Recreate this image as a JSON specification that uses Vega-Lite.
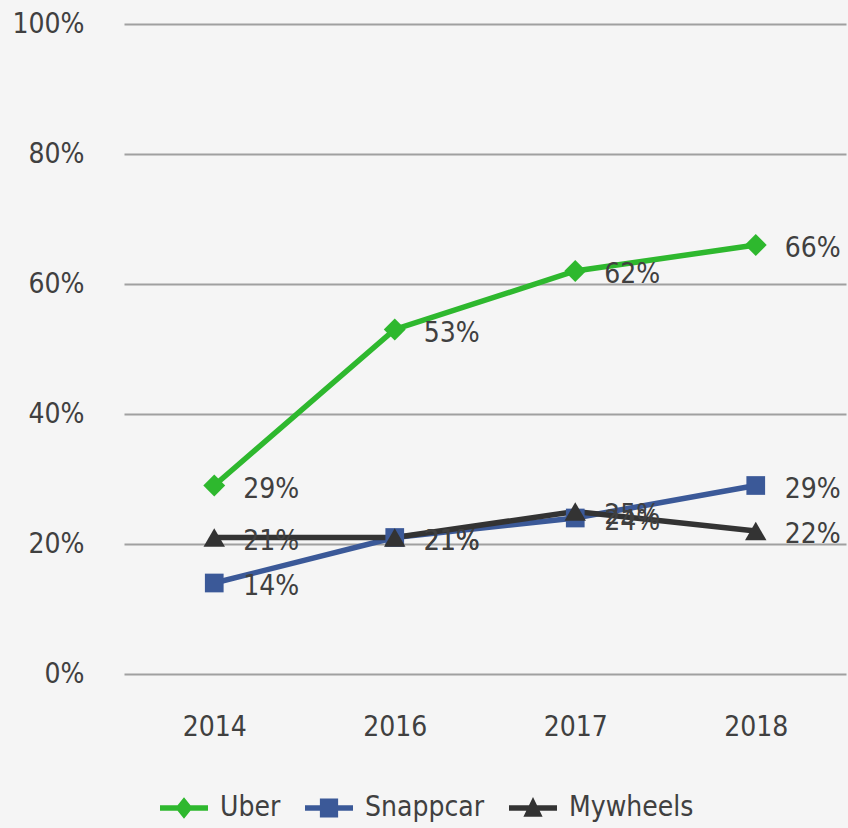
{
  "$schema": "https://vega.github.io/schema/vega-lite/v6.json",
  "autosize": "none",
  "width": 722,
  "height": 650,
  "padding": {"left": 124, "top": 24, "right": 2, "bottom": 154},
  "background": "#f5f5f5",
  "config": {
    "font": "DejaVu Sans Condensed, sans-serif",
    "view": {"stroke": null},
    "axis": {"labelColor": "#404040", "labelFontSize": 28, "labelFontWeight": "normal", "title": null}
  },
  "data": {
    "values": [
      {"year": "2014", "series": "Uber", "value": 0.29},
      {"year": "2016", "series": "Uber", "value": 0.53},
      {"year": "2017", "series": "Uber", "value": 0.62},
      {"year": "2018", "series": "Uber", "value": 0.66},
      {"year": "2014", "series": "Snappcar", "value": 0.14},
      {"year": "2016", "series": "Snappcar", "value": 0.21},
      {"year": "2017", "series": "Snappcar", "value": 0.24},
      {"year": "2018", "series": "Snappcar", "value": 0.29},
      {"year": "2014", "series": "Mywheels", "value": 0.21},
      {"year": "2016", "series": "Mywheels", "value": 0.21},
      {"year": "2017", "series": "Mywheels", "value": 0.25},
      {"year": "2018", "series": "Mywheels", "value": 0.22}
    ]
  },
  "encoding": {
    "x": {
      "field": "year", "type": "ordinal",
      "axis": {"labelAngle": 0, "domain": false, "ticks": false, "labelPadding": 39, "title": null}
    },
    "y": {
      "field": "value", "type": "quantitative",
      "scale": {"domain": [0, 1]},
      "axis": {
        "values": [0, 0.2, 0.4, 0.6, 0.8, 1],
        "format": ".0%", "domain": false, "ticks": false, "labelPadding": 40,
        "grid": true, "gridColor": "#a0a0a0", "gridWidth": 2, "title": null
      }
    }
  },
  "layer": [
    {
      "mark": {"type": "line", "strokeWidth": 5.5},
      "encoding": {
        "color": {
          "field": "series", "type": "nominal",
          "scale": {"domain": ["Uber", "Snappcar", "Mywheels"], "range": ["#2eb82e", "#3b5998", "#333333"]},
          "legend": {
            "orient": "none", "legendX": 36, "legendY": 760, "direction": "horizontal",
            "title": null, "labelFontSize": 28, "labelColor": "#404040", "labelOffset": 12,
            "columnPadding": 24, "symbolSize": 2304,
            "encode": {
              "symbols": {
                "update": {
                  "shape": {"signal": "datum.value === 'Uber' ? 'M-1,-0.11L1,-0.11L1,0.11L-1,0.11Z M0,-0.45L0.36,0L0,0.45L-0.36,0Z' : datum.value === 'Snappcar' ? 'M-1,-0.11L1,-0.11L1,0.11L-1,0.11Z M-0.38,-0.4L0.38,-0.4L0.38,0.4L-0.38,0.4Z' : 'M-1,-0.11L1,-0.11L1,0.11L-1,0.11Z M0,-0.46L0.4,0.36L-0.4,0.36Z'"},
                  "fill": {"scale": "color", "field": "value"},
                  "fillOpacity": {"value": 1},
                  "strokeWidth": {"value": 0},
                  "size": {"value": 2304}
                }
              }
            }
          }
        }
      }
    },
    {
      "transform": [{"filter": "datum.series === 'Uber'"}],
      "mark": {"type": "point", "filled": true, "opacity": 1, "size": 480, "shape": "diamond", "color": "#2eb82e"}
    },
    {
      "transform": [{"filter": "datum.series === 'Snappcar'"}],
      "mark": {"type": "point", "filled": true, "opacity": 1, "size": 350, "shape": "square", "color": "#3b5998"}
    },
    {
      "transform": [{"filter": "datum.series === 'Mywheels'"}],
      "mark": {"type": "point", "filled": true, "opacity": 1, "size": 460, "shape": "triangle-up", "color": "#333333"}
    },
    {
      "mark": {"type": "text", "align": "left", "baseline": "middle", "dx": 29, "dy": 4, "fontSize": 28, "color": "#404040"},
      "encoding": {
        "text": {"field": "value", "type": "quantitative", "format": ".0%"}
      }
    }
  ]
}
